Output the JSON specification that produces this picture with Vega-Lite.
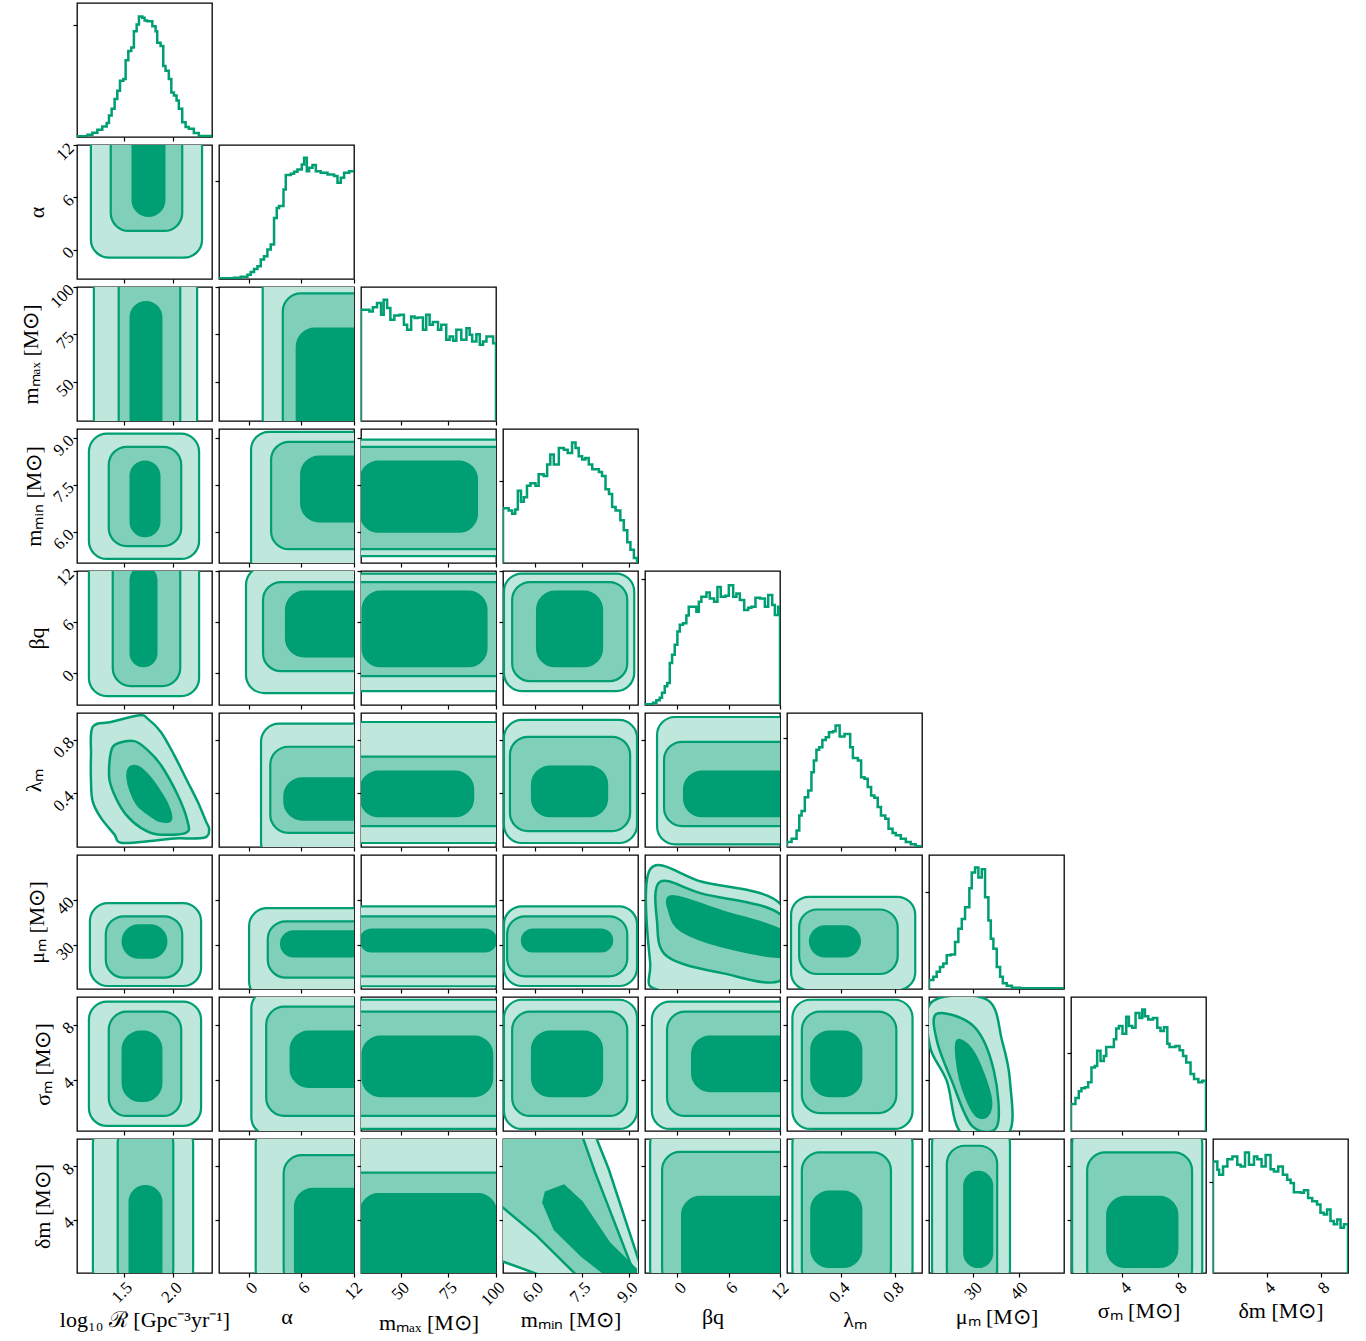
{
"$schema":"https://vega.github.io/schema/vega-lite/v6.json",
"padding":{"left":18,"top":2,"right":5,"bottom":5},
"background":"white",
"datasets":{
"h":[
{"p":0,"x":1.03,"h":0},{"p":0,"x":1.03,"h":0.5},{"p":0,"x":1.135,"h":1.7},{"p":0,"x":1.185,"h":3.2},{"p":0,"x":1.235,"h":5.4},{"p":0,"x":1.285,"h":7.9},{"p":0,"x":1.329,"h":10.4},{"p":0,"x":1.352,"h":16},{"p":0,"x":1.379,"h":21},{"p":0,"x":1.409,"h":28.4},{"p":0,"x":1.436,"h":34.6},{"p":0,"x":1.463,"h":42},{"p":0,"x":1.497,"h":43.2},{"p":0,"x":1.52,"h":57.3},{"p":0,"x":1.547,"h":64.2},{"p":0,"x":1.577,"h":66.7},{"p":0,"x":1.603,"h":79},{"p":0,"x":1.631,"h":84},{"p":0,"x":1.654,"h":90},{"p":0,"x":1.688,"h":88.9},{"p":0,"x":1.711,"h":86.9},{"p":0,"x":1.738,"h":86.4},{"p":0,"x":1.789,"h":82.7},{"p":0,"x":1.822,"h":79},{"p":0,"x":1.838,"h":70.4},{"p":0,"x":1.872,"h":67.9},{"p":0,"x":1.899,"h":53},{"p":0,"x":1.922,"h":49.4},{"p":0,"x":1.955,"h":43.2},{"p":0,"x":1.98,"h":33.3},{"p":0,"x":2.006,"h":30.9},{"p":0,"x":2.033,"h":27.2},{"p":0,"x":2.056,"h":21},{"p":0,"x":2.09,"h":11.1},{"p":0,"x":2.124,"h":7.4},{"p":0,"x":2.157,"h":6.2},{"p":0,"x":2.207,"h":3},{"p":0,"x":2.257,"h":0.7},{"p":0,"x":2.39,"h":0.7},
{"p":1,"x":-3.4,"h":0.5},{"p":1,"x":-1.68,"h":1},{"p":1,"x":-0.91,"h":1.7},{"p":1,"x":-0.15,"h":3.2},{"p":1,"x":0.23,"h":5.2},{"p":1,"x":0.61,"h":7.5},{"p":1,"x":1.0,"h":9.5},{"p":1,"x":1.38,"h":14.5},{"p":1,"x":1.75,"h":17},{"p":1,"x":2.14,"h":22},{"p":1,"x":2.52,"h":25.7},{"p":1,"x":2.9,"h":45.6},{"p":1,"x":3.21,"h":53},{"p":1,"x":3.47,"h":54.4},{"p":1,"x":3.98,"h":66.8},{"p":1,"x":4.24,"h":77.6},{"p":1,"x":4.81,"h":78.6},{"p":1,"x":5.19,"h":80},{"p":1,"x":5.58,"h":81.8},{"p":1,"x":6.07,"h":85.5},{"p":1,"x":6.34,"h":90.5},{"p":1,"x":6.65,"h":80.5},{"p":1,"x":6.91,"h":83},{"p":1,"x":7.3,"h":85},{"p":1,"x":7.68,"h":80.5},{"p":1,"x":8.25,"h":79.3},{"p":1,"x":9.02,"h":78},{"p":1,"x":9.77,"h":76.8},{"p":1,"x":10.16,"h":71.8},{"p":1,"x":10.54,"h":75.6},{"p":1,"x":10.92,"h":79.3},{"p":1,"x":11.49,"h":80.5},{"p":1,"x":12.05,"h":80.5},
{"p":2,"x":29.2,"h":0},{"p":2,"x":29.2,"h":83},{"p":2,"x":33.6,"h":81.8},{"p":2,"x":35.4,"h":84.8},{"p":2,"x":37.6,"h":88},{"p":2,"x":39.7,"h":79.3},{"p":2,"x":41.1,"h":90.5},{"p":2,"x":42.9,"h":84.3},{"p":2,"x":44.6,"h":75.6},{"p":2,"x":46.7,"h":78.8},{"p":2,"x":49.4,"h":79.3},{"p":2,"x":51.7,"h":71.8},{"p":2,"x":53.4,"h":68.1},{"p":2,"x":55.5,"h":78},{"p":2,"x":57.3,"h":76.8},{"p":2,"x":59,"h":77.3},{"p":2,"x":61.7,"h":68.1},{"p":2,"x":63.4,"h":79.3},{"p":2,"x":65.2,"h":71.8},{"p":2,"x":66.9,"h":73.8},{"p":2,"x":69.6,"h":68.1},{"p":2,"x":71.3,"h":71.8},{"p":2,"x":73.9,"h":60.6},{"p":2,"x":75.7,"h":63.1},{"p":2,"x":77.5,"h":59.9},{"p":2,"x":79.2,"h":68.1},{"p":2,"x":81.8,"h":60.6},{"p":2,"x":84.5,"h":69.3},{"p":2,"x":86.2,"h":64.3},{"p":2,"x":87.5,"h":59.4},{"p":2,"x":89.7,"h":64.8},{"p":2,"x":91.5,"h":56.9},{"p":2,"x":93.2,"h":59.4},{"p":2,"x":95,"h":63.1},{"p":2,"x":98.5,"h":58.1},{"p":2,"x":100,"h":58.1},{"p":2,"x":100,"h":0},
{"p":3,"x":5,"h":0},{"p":3,"x":5,"h":40.9},{"p":3,"x":5.18,"h":39.2},{"p":3,"x":5.29,"h":36.8},{"p":3,"x":5.39,"h":40},{"p":3,"x":5.47,"h":53.9},{"p":3,"x":5.57,"h":45.8},{"p":3,"x":5.66,"h":49},{"p":3,"x":5.76,"h":57.6},{"p":3,"x":5.87,"h":59.6},{"p":3,"x":6.03,"h":57.6},{"p":3,"x":6.13,"h":66.2},{"p":3,"x":6.29,"h":65},{"p":3,"x":6.4,"h":73.5},{"p":3,"x":6.5,"h":80.9},{"p":3,"x":6.61,"h":73.5},{"p":3,"x":6.77,"h":85.8},{"p":3,"x":6.93,"h":84.6},{"p":3,"x":7.05,"h":82.1},{"p":3,"x":7.19,"h":90},{"p":3,"x":7.3,"h":85.8},{"p":3,"x":7.4,"h":79.7},{"p":3,"x":7.51,"h":77.2},{"p":3,"x":7.61,"h":78.4},{"p":3,"x":7.72,"h":73.5},{"p":3,"x":7.83,"h":69.9},{"p":3,"x":8.04,"h":67.9},{"p":3,"x":8.14,"h":65},{"p":3,"x":8.25,"h":55.1},{"p":3,"x":8.36,"h":51.5},{"p":3,"x":8.46,"h":41.7},{"p":3,"x":8.57,"h":39.2},{"p":3,"x":8.72,"h":31.9},{"p":3,"x":8.83,"h":24.5},{"p":3,"x":8.94,"h":15.4},{"p":3,"x":9.04,"h":9.8},{"p":3,"x":9.15,"h":3.7},{"p":3,"x":9.25,"h":0.7},{"p":3,"x":9.28,"h":0.7},{"p":3,"x":9.28,"h":0},
{"p":4,"x":-3.8,"h":0.5},{"p":4,"x":-2.86,"h":1.7},{"p":4,"x":-2.47,"h":3.5},{"p":4,"x":-2.08,"h":5.4},{"p":4,"x":-1.81,"h":9.1},{"p":4,"x":-1.49,"h":14},{"p":4,"x":-1.19,"h":16.5},{"p":4,"x":-0.9,"h":31.4},{"p":4,"x":-0.63,"h":37.5},{"p":4,"x":-0.32,"h":44.9},{"p":4,"x":-0.01,"h":54.8},{"p":4,"x":0.27,"h":59.8},{"p":4,"x":0.65,"h":61},{"p":4,"x":1.04,"h":66.7},{"p":4,"x":1.32,"h":73.3},{"p":4,"x":2.21,"h":69.6},{"p":4,"x":2.5,"h":77},{"p":4,"x":2.8,"h":80.7},{"p":4,"x":3.39,"h":84},{"p":4,"x":3.78,"h":79.5},{"p":4,"x":4.29,"h":77},{"p":4,"x":4.68,"h":88.1},{"p":4,"x":5.07,"h":80.7},{"p":4,"x":5.61,"h":81.5},{"p":4,"x":6.01,"h":89.4},{"p":4,"x":6.52,"h":80.7},{"p":4,"x":6.9,"h":83.2},{"p":4,"x":7.3,"h":78.3},{"p":4,"x":7.81,"h":70.9},{"p":4,"x":8.28,"h":72.6},{"p":4,"x":8.66,"h":73.3},{"p":4,"x":9.13,"h":80},{"p":4,"x":9.65,"h":79.5},{"p":4,"x":10.23,"h":73.3},{"p":4,"x":10.62,"h":82},{"p":4,"x":11.09,"h":74.6},{"p":4,"x":11.4,"h":67.2},{"p":4,"x":11.79,"h":73.3},{"p":4,"x":12,"h":73.3},{"p":4,"x":12,"h":0},
{"p":5,"x":0,"h":0},{"p":5,"x":0,"h":3.7},{"p":5,"x":0.034,"h":6.2},{"p":5,"x":0.071,"h":12.4},{"p":5,"x":0.091,"h":23.6},{"p":5,"x":0.108,"h":26.8},{"p":5,"x":0.132,"h":37.2},{"p":5,"x":0.157,"h":42.2},{"p":5,"x":0.181,"h":55.8},{"p":5,"x":0.199,"h":64.5},{"p":5,"x":0.218,"h":72.5},{"p":5,"x":0.238,"h":74.4},{"p":5,"x":0.262,"h":79.9},{"p":5,"x":0.287,"h":81.9},{"p":5,"x":0.311,"h":85.6},{"p":5,"x":0.341,"h":86.4},{"p":5,"x":0.36,"h":90.6},{"p":5,"x":0.39,"h":82.4},{"p":5,"x":0.426,"h":84.4},{"p":5,"x":0.468,"h":74.4},{"p":5,"x":0.488,"h":66.5},{"p":5,"x":0.525,"h":64.5},{"p":5,"x":0.549,"h":52.1},{"p":5,"x":0.574,"h":50.9},{"p":5,"x":0.598,"h":44.7},{"p":5,"x":0.623,"h":38.5},{"p":5,"x":0.647,"h":36.7},{"p":5,"x":0.672,"h":29.8},{"p":5,"x":0.696,"h":23.6},{"p":5,"x":0.728,"h":21.1},{"p":5,"x":0.752,"h":13.6},{"p":5,"x":0.782,"h":10.4},{"p":5,"x":0.806,"h":8.7},{"p":5,"x":0.843,"h":6.2},{"p":5,"x":0.88,"h":3.7},{"p":5,"x":0.917,"h":2},{"p":5,"x":0.953,"h":0.5},{"p":5,"x":1,"h":0.5},
{"p":6,"x":20.3,"h":0},{"p":6,"x":20.3,"h":6.7},{"p":6,"x":21.24,"h":9.1},{"p":6,"x":21.98,"h":12.8},{"p":6,"x":22.7,"h":16.5},{"p":6,"x":23.43,"h":19},{"p":6,"x":24.17,"h":25.2},{"p":6,"x":25.05,"h":25.7},{"p":6,"x":25.99,"h":35.1},{"p":6,"x":26.71,"h":44.9},{"p":6,"x":27.46,"h":52.3},{"p":6,"x":28.18,"h":61},{"p":6,"x":29.12,"h":75.1},{"p":6,"x":29.64,"h":86.9},{"p":6,"x":30.37,"h":90.6},{"p":6,"x":31.09,"h":83.2},{"p":6,"x":31.83,"h":89.4},{"p":6,"x":32.55,"h":68.4},{"p":6,"x":33.28,"h":51.1},{"p":6,"x":33.8,"h":37.5},{"p":6,"x":34.37,"h":30.1},{"p":6,"x":35.11,"h":16.5},{"p":6,"x":35.84,"h":9.1},{"p":6,"x":36.43,"h":4.2},{"p":6,"x":37.3,"h":2.5},{"p":6,"x":38.4,"h":1},{"p":6,"x":40.2,"h":0.5},{"p":6,"x":49.8,"h":0.5},
{"p":7,"x":0.3,"h":0},{"p":7,"x":0.3,"h":20.2},{"p":7,"x":0.62,"h":24.7},{"p":7,"x":0.86,"h":29.6},{"p":7,"x":1.05,"h":31.9},{"p":7,"x":1.3,"h":32.6},{"p":7,"x":1.53,"h":36.3},{"p":7,"x":1.77,"h":47.4},{"p":7,"x":2.01,"h":48.6},{"p":7,"x":2.18,"h":59.8},{"p":7,"x":2.42,"h":52.3},{"p":7,"x":2.66,"h":56},{"p":7,"x":2.83,"h":62.7},{"p":7,"x":3.38,"h":68.4},{"p":7,"x":3.55,"h":76.5},{"p":7,"x":3.74,"h":78.3},{"p":7,"x":4,"h":72.6},{"p":7,"x":4.27,"h":85.2},{"p":7,"x":4.46,"h":78.3},{"p":7,"x":4.7,"h":77},{"p":7,"x":4.94,"h":88.1},{"p":7,"x":5.22,"h":84.4},{"p":7,"x":5.42,"h":90.6},{"p":7,"x":5.61,"h":85.7},{"p":7,"x":5.85,"h":83.2},{"p":7,"x":6.19,"h":84.4},{"p":7,"x":6.5,"h":77},{"p":7,"x":6.73,"h":74.6},{"p":7,"x":6.98,"h":77.5},{"p":7,"x":7.22,"h":65.2},{"p":7,"x":7.38,"h":62.7},{"p":7,"x":7.81,"h":63.5},{"p":7,"x":8.1,"h":60.2},{"p":7,"x":8.35,"h":56},{"p":7,"x":8.58,"h":51.1},{"p":7,"x":8.89,"h":42.5},{"p":7,"x":9.14,"h":38.8},{"p":7,"x":9.45,"h":36.3},{"p":7,"x":9.73,"h":37.5},{"p":7,"x":10,"h":37.5},{"p":7,"x":10,"h":0},
{"p":8,"x":0.05,"h":0},{"p":8,"x":0.05,"h":83.2},{"p":8,"x":0.37,"h":77},{"p":8,"x":0.5,"h":73.3},{"p":8,"x":0.79,"h":79.5},{"p":8,"x":1.11,"h":84.9},{"p":8,"x":1.48,"h":86.9},{"p":8,"x":1.84,"h":80.7},{"p":8,"x":2.09,"h":79.5},{"p":8,"x":2.41,"h":89.9},{"p":8,"x":2.7,"h":80.7},{"p":8,"x":3.07,"h":86.9},{"p":8,"x":3.32,"h":84.9},{"p":8,"x":3.63,"h":79.5},{"p":8,"x":3.93,"h":88.1},{"p":8,"x":4.29,"h":77.5},{"p":8,"x":4.54,"h":75.8},{"p":8,"x":4.86,"h":79.5},{"p":8,"x":5.2,"h":73.3},{"p":8,"x":5.52,"h":69.6},{"p":8,"x":5.77,"h":67.2},{"p":8,"x":6.01,"h":60.2},{"p":8,"x":6.5,"h":59.8},{"p":8,"x":6.75,"h":61.7},{"p":8,"x":7.06,"h":56},{"p":8,"x":7.36,"h":53.6},{"p":8,"x":7.72,"h":51.1},{"p":8,"x":7.97,"h":44.9},{"p":8,"x":8.22,"h":43.7},{"p":8,"x":8.46,"h":47.4},{"p":8,"x":8.71,"h":38.8},{"p":8,"x":8.95,"h":36.3},{"p":8,"x":9.2,"h":40},{"p":8,"x":9.45,"h":33.8},{"p":8,"x":9.7,"h":36.3},{"p":8,"x":10,"h":36.3},{"p":8,"x":10,"h":0}
],
"b":[
{"r":1,"c":0,"l":1,"x1":1.17,"x2":2.29,"y1":-0.94,"y2":14},{"r":1,"c":0,"l":2,"x1":1.37,"x2":2.09,"y1":2.14,"y2":14},{"r":1,"c":0,"l":3,"x1":1.59,"x2":1.91,"y1":3.87,"y2":14},
{"r":2,"c":0,"l":1,"x1":1.2,"x2":2.24,"y1":20,"y2":110},{"r":2,"c":0,"l":2,"x1":1.45,"x2":2.07,"y1":20,"y2":110},{"r":2,"c":0,"l":3,"x1":1.57,"x2":1.88,"y1":20,"y2":92},
{"r":2,"c":1,"l":1,"x1":1.6,"x2":14,"y1":20,"y2":110},{"r":2,"c":1,"l":2,"x1":3.9,"x2":14,"y1":20,"y2":96.6},{"r":2,"c":1,"l":3,"x1":5.5,"x2":14,"y1":20,"y2":78},
{"r":3,"c":0,"l":1,"x1":1.15,"x2":2.26,"y1":5.13,"y2":9.13},{"r":3,"c":0,"l":2,"x1":1.35,"x2":2.08,"y1":5.54,"y2":8.71},{"r":3,"c":0,"l":3,"x1":1.57,"x2":1.86,"y1":5.86,"y2":8.24},
{"r":3,"c":1,"l":1,"x1":0.27,"x2":14,"y1":4.5,"y2":9.19},{"r":3,"c":1,"l":2,"x1":2.56,"x2":14,"y1":5.44,"y2":8.87},{"r":3,"c":1,"l":3,"x1":6,"x2":14,"y1":6.33,"y2":8.4},
{"r":3,"c":2,"l":1,"x1":20,"x2":110,"y1":5.22,"y2":8.94},{"r":3,"c":2,"l":2,"x1":20,"x2":110,"y1":5.44,"y2":8.71},{"r":3,"c":2,"l":3,"x1":29,"x2":90,"y1":6,"y2":8.24},
{"r":4,"c":0,"l":1,"x1":1.15,"x2":2.26,"y1":-2.75,"y2":14},{"r":4,"c":0,"l":2,"x1":1.39,"x2":2.07,"y1":-1.57,"y2":14},{"r":4,"c":0,"l":3,"x1":1.57,"x2":1.83,"y1":0.77,"y2":12.5},
{"r":4,"c":1,"l":1,"x1":-0.31,"x2":14,"y1":-2.39,"y2":12.5},{"r":4,"c":1,"l":2,"x1":1.64,"x2":14,"y1":0.19,"y2":10.7},{"r":4,"c":1,"l":3,"x1":4.27,"x2":14,"y1":1.94,"y2":9.56},
{"r":4,"c":2,"l":1,"x1":20,"x2":110,"y1":-2.16,"y2":11.7},{"r":4,"c":2,"l":2,"x1":20,"x2":110,"y1":-0.4,"y2":10.7},{"r":4,"c":2,"l":3,"x1":30,"x2":95,"y1":0.77,"y2":9.56},
{"r":4,"c":3,"l":1,"x1":5.03,"x2":9.16,"y1":-2.16,"y2":11.7},{"r":4,"c":3,"l":2,"x1":5.29,"x2":8.94,"y1":-0.99,"y2":10.7},{"r":4,"c":3,"l":3,"x1":6.08,"x2":8.14,"y1":0.77,"y2":9.56},
{"r":5,"c":1,"l":1,"x1":1.41,"x2":14,"y1":-0.1,"y2":0.92},{"r":5,"c":1,"l":2,"x1":2.47,"x2":14,"y1":0.106,"y2":0.748},{"r":5,"c":1,"l":3,"x1":4.08,"x2":14,"y1":0.205,"y2":0.513},
{"r":5,"c":2,"l":1,"x1":20,"x2":110,"y1":0.03,"y2":0.933},{"r":5,"c":2,"l":2,"x1":20,"x2":110,"y1":0.156,"y2":0.674},{"r":5,"c":2,"l":3,"x1":29,"x2":88,"y1":0.23,"y2":0.563},
{"r":5,"c":3,"l":1,"x1":5.03,"x2":9.25,"y1":0.03,"y2":0.948},{"r":5,"c":3,"l":2,"x1":5.22,"x2":9.03,"y1":0.119,"y2":0.822},{"r":5,"c":3,"l":3,"x1":5.92,"x2":8.3,"y1":0.23,"y2":0.6},
{"r":5,"c":4,"l":1,"x1":-2.39,"x2":14,"y1":0.02,"y2":0.97},{"r":5,"c":4,"l":2,"x1":-1.57,"x2":14,"y1":0.156,"y2":0.785},{"r":5,"c":4,"l":3,"x1":0.77,"x2":14,"y1":0.23,"y2":0.563},
{"r":6,"c":0,"l":1,"x1":1.16,"x2":2.28,"y1":20.96,"y2":39.2},{"r":6,"c":0,"l":2,"x1":1.32,"x2":2.09,"y1":22.8,"y2":36.3},{"r":6,"c":0,"l":3,"x1":1.49,"x2":1.93,"y1":27.2,"y2":34.3},
{"r":6,"c":1,"l":1,"x1":0.04,"x2":14,"y1":18,"y2":38.1},{"r":6,"c":1,"l":2,"x1":2.18,"x2":14,"y1":22.8,"y2":35.2},{"r":6,"c":1,"l":3,"x1":3.7,"x2":14,"y1":27.5,"y2":33},
{"r":6,"c":2,"l":1,"x1":20,"x2":110,"y1":20.9,"y2":38.5},{"r":6,"c":2,"l":2,"x1":20,"x2":110,"y1":23.1,"y2":36.3},{"r":6,"c":2,"l":3,"x1":29,"x2":100,"y1":28.6,"y2":33.4},
{"r":6,"c":3,"l":1,"x1":5.03,"x2":9.25,"y1":20.96,"y2":38.5},{"r":6,"c":3,"l":2,"x1":5.13,"x2":8.94,"y1":23.1,"y2":36.3},{"r":6,"c":3,"l":3,"x1":5.6,"x2":8.46,"y1":28.6,"y2":33.4},
{"r":6,"c":5,"l":1,"x1":0.03,"x2":0.95,"y1":20,"y2":40.6},{"r":6,"c":5,"l":2,"x1":0.09,"x2":0.82,"y1":23.6,"y2":37.8},{"r":6,"c":5,"l":3,"x1":0.17,"x2":0.54,"y1":27.5,"y2":34.1},
{"r":7,"c":0,"l":1,"x1":1.15,"x2":2.28,"y1":0.67,"y2":9.66},{"r":7,"c":0,"l":2,"x1":1.35,"x2":2.08,"y1":1.39,"y2":8.94},{"r":7,"c":0,"l":3,"x1":1.49,"x2":1.88,"y1":2.47,"y2":7.5},
{"r":7,"c":1,"l":1,"x1":0.3,"x2":14,"y1":0,"y2":10.5},{"r":7,"c":1,"l":2,"x1":2,"x2":14,"y1":1.4,"y2":9.3},{"r":7,"c":1,"l":3,"x1":4.8,"x2":14,"y1":3.5,"y2":7.5},
{"r":7,"c":2,"l":1,"x1":20,"x2":110,"y1":0.45,"y2":9.8},{"r":7,"c":2,"l":2,"x1":20,"x2":110,"y1":1.39,"y2":8.94},{"r":7,"c":2,"l":3,"x1":30,"x2":98,"y1":2.83,"y2":7.14},
{"r":7,"c":3,"l":1,"x1":5.03,"x2":9.25,"y1":0.45,"y2":9.8},{"r":7,"c":3,"l":2,"x1":5.29,"x2":8.94,"y1":1.39,"y2":8.94},{"r":7,"c":3,"l":3,"x1":5.92,"x2":8.14,"y1":2.83,"y2":7.5},
{"r":7,"c":4,"l":1,"x1":-3,"x2":14,"y1":0.45,"y2":9.66},{"r":7,"c":4,"l":2,"x1":-1.22,"x2":14,"y1":1.39,"y2":8.94},{"r":7,"c":4,"l":3,"x1":1.71,"x2":14,"y1":3.19,"y2":7.14},
{"r":7,"c":5,"l":1,"x1":0.04,"x2":0.93,"y1":0.45,"y2":9.8},{"r":7,"c":5,"l":2,"x1":0.11,"x2":0.81,"y1":1.6,"y2":8.94},{"r":7,"c":5,"l":3,"x1":0.18,"x2":0.55,"y1":2.83,"y2":7.5},
{"r":8,"c":0,"l":1,"x1":1.19,"x2":2.2,"y1":-1,"y2":11},{"r":8,"c":0,"l":2,"x1":1.44,"x2":2.0,"y1":-1,"y2":11},{"r":8,"c":0,"l":3,"x1":1.56,"x2":1.88,"y1":-1,"y2":6.5},
{"r":8,"c":1,"l":1,"x1":0.8,"x2":14,"y1":-1,"y2":11},{"r":8,"c":1,"l":2,"x1":4,"x2":14,"y1":-1,"y2":8.8},{"r":8,"c":1,"l":3,"x1":5.3,"x2":14,"y1":-1,"y2":6.3},
{"r":8,"c":2,"l":1,"x1":20,"x2":110,"y1":-1,"y2":10.5},{"r":8,"c":2,"l":2,"x1":20,"x2":110,"y1":-1,"y2":7.5},{"r":8,"c":2,"l":3,"x1":29,"x2":100,"y1":-1,"y2":5.9},
{"r":8,"c":4,"l":1,"x1":-3.2,"x2":14,"y1":-1,"y2":11},{"r":8,"c":4,"l":2,"x1":-1.8,"x2":14,"y1":-1,"y2":9.04},{"r":8,"c":4,"l":3,"x1":0.54,"x2":14,"y1":-1,"y2":5.7},
{"r":8,"c":5,"l":1,"x1":0.04,"x2":0.93,"y1":-1,"y2":11},{"r":8,"c":5,"l":2,"x1":0.11,"x2":0.77,"y1":-1,"y2":9},{"r":8,"c":5,"l":3,"x1":0.18,"x2":0.55,"y1":0.5,"y2":6.1},
{"r":8,"c":6,"l":1,"x1":20.96,"x2":38,"y1":-1,"y2":11},{"r":8,"c":6,"l":2,"x1":24.2,"x2":35.2,"y1":-1,"y2":9.5},{"r":8,"c":6,"l":3,"x1":28,"x2":34.1,"y1":0.5,"y2":7.56},
{"r":8,"c":7,"l":1,"x1":0.38,"x2":9.73,"y1":-1,"y2":11},{"r":8,"c":7,"l":2,"x1":1.46,"x2":9,"y1":-1,"y2":9},{"r":8,"c":7,"l":3,"x1":2.9,"x2":7.94,"y1":0.5,"y2":5.7}
],
"q":[
{"r":5,"c":0,"l":1,"o":0,"x1":1.188,"y1":0.896},{"r":5,"c":0,"l":1,"o":1,"x1":1.372,"y1":0.933},{"r":5,"c":0,"l":1,"o":2,"x1":1.657,"y1":0.983},{"r":5,"c":0,"l":1,"o":3,"x1":1.741,"y1":0.958},{"r":5,"c":0,"l":1,"o":4,"x1":1.875,"y1":0.859},{"r":5,"c":0,"l":1,"o":5,"x1":2.009,"y1":0.686},{"r":5,"c":0,"l":1,"o":6,"x1":2.143,"y1":0.489},{"r":5,"c":0,"l":1,"o":7,"x1":2.244,"y1":0.341},{"r":5,"c":0,"l":1,"o":8,"x1":2.328,"y1":0.193},{"r":5,"c":0,"l":1,"o":9,"x1":2.361,"y1":0.131},{"r":5,"c":0,"l":1,"o":10,"x1":2.311,"y1":0.069},{"r":5,"c":0,"l":1,"o":11,"x1":2.009,"y1":0.064},{"r":5,"c":0,"l":1,"o":12,"x1":1.774,"y1":0.044},{"r":5,"c":0,"l":1,"o":13,"x1":1.473,"y1":0.032},{"r":5,"c":0,"l":1,"o":14,"x1":1.406,"y1":0.094},{"r":5,"c":0,"l":1,"o":15,"x1":1.271,"y1":0.217},{"r":5,"c":0,"l":1,"o":16,"x1":1.188,"y1":0.341},{"r":5,"c":0,"l":1,"o":17,"x1":1.171,"y1":0.489},{"r":5,"c":0,"l":1,"o":18,"x1":1.171,"y1":0.686},
{"r":5,"c":0,"l":2,"o":0,"x1":1.372,"y1":0.711},{"r":5,"c":0,"l":2,"o":1,"x1":1.439,"y1":0.773},{"r":5,"c":0,"l":2,"o":2,"x1":1.607,"y1":0.79},{"r":5,"c":0,"l":2,"o":3,"x1":1.741,"y1":0.723},{"r":5,"c":0,"l":2,"o":4,"x1":1.875,"y1":0.612},{"r":5,"c":0,"l":2,"o":5,"x1":2.043,"y1":0.39},{"r":5,"c":0,"l":2,"o":6,"x1":2.143,"y1":0.193},{"r":5,"c":0,"l":2,"o":7,"x1":2.127,"y1":0.106},{"r":5,"c":0,"l":2,"o":8,"x1":1.842,"y1":0.094},{"r":5,"c":0,"l":2,"o":9,"x1":1.674,"y1":0.143},{"r":5,"c":0,"l":2,"o":10,"x1":1.523,"y1":0.242},{"r":5,"c":0,"l":2,"o":11,"x1":1.422,"y1":0.365},{"r":5,"c":0,"l":2,"o":12,"x1":1.355,"y1":0.514},
{"r":5,"c":0,"l":3,"o":0,"x1":1.556,"y1":0.588},{"r":5,"c":0,"l":3,"o":1,"x1":1.64,"y1":0.6},{"r":5,"c":0,"l":3,"o":2,"x1":1.741,"y1":0.538},{"r":5,"c":0,"l":3,"o":3,"x1":1.842,"y1":0.44},{"r":5,"c":0,"l":3,"o":4,"x1":1.942,"y1":0.316},{"r":5,"c":0,"l":3,"o":5,"x1":1.976,"y1":0.205},{"r":5,"c":0,"l":3,"o":6,"x1":1.875,"y1":0.193},{"r":5,"c":0,"l":3,"o":7,"x1":1.758,"y1":0.242},{"r":5,"c":0,"l":3,"o":8,"x1":1.64,"y1":0.316},{"r":5,"c":0,"l":3,"o":9,"x1":1.573,"y1":0.415},{"r":5,"c":0,"l":3,"o":10,"x1":1.54,"y1":0.514},
{"r":6,"c":4,"l":1,"o":0,"x1":-3.21,"y1":46.6},{"r":6,"c":4,"l":1,"o":1,"x1":2.88,"y1":43.9},{"r":6,"c":4,"l":1,"o":2,"x1":12.3,"y1":38.5},{"r":6,"c":4,"l":1,"o":3,"x1":12.3,"y1":19.9},{"r":6,"c":4,"l":1,"o":4,"x1":-1.81,"y1":19.9},{"r":6,"c":4,"l":1,"o":5,"x1":-3.21,"y1":26.4},
{"r":6,"c":4,"l":2,"o":0,"x1":-2.04,"y1":43.9},{"r":6,"c":4,"l":2,"o":1,"x1":2.88,"y1":41.3},{"r":6,"c":4,"l":2,"o":2,"x1":12.3,"y1":36.3},{"r":6,"c":4,"l":2,"o":3,"x1":12.3,"y1":22.5},{"r":6,"c":4,"l":2,"o":4,"x1":5.23,"y1":23.8},{"r":6,"c":4,"l":2,"o":5,"x1":-1.22,"y1":27.5},{"r":6,"c":4,"l":2,"o":6,"x1":-2.39,"y1":35.2},
{"r":6,"c":4,"l":3,"o":0,"x1":-0.63,"y1":40.7},{"r":6,"c":4,"l":3,"o":1,"x1":5.23,"y1":37.4},{"r":6,"c":4,"l":3,"o":2,"x1":12.3,"y1":33.0},{"r":6,"c":4,"l":3,"o":3,"x1":12.3,"y1":27.5},{"r":6,"c":4,"l":3,"o":4,"x1":5.23,"y1":29.7},{"r":6,"c":4,"l":3,"o":5,"x1":0.54,"y1":33.0},{"r":6,"c":4,"l":3,"o":6,"x1":-0.87,"y1":36.9},
{"r":7,"c":6,"l":1,"o":0,"x1":20.96,"y1":9.66},{"r":7,"c":6,"l":1,"o":1,"x1":33.0,"y1":9.8},{"r":7,"c":6,"l":1,"o":2,"x1":36.3,"y1":6.79},{"r":7,"c":6,"l":1,"o":3,"x1":38.0,"y1":3.91},{"r":7,"c":6,"l":1,"o":4,"x1":37.6,"y1":0.1},{"r":7,"c":6,"l":1,"o":5,"x1":27.5,"y1":0.1},{"r":7,"c":6,"l":1,"o":6,"x1":24.2,"y1":3.91},{"r":7,"c":6,"l":1,"o":7,"x1":20.5,"y1":6.43},
{"r":7,"c":6,"l":2,"o":0,"x1":22.05,"y1":8.8},{"r":7,"c":6,"l":2,"o":1,"x1":30.15,"y1":7.86},{"r":7,"c":6,"l":2,"o":2,"x1":34.5,"y1":4.63},{"r":7,"c":6,"l":2,"o":3,"x1":35.2,"y1":0.67},{"r":7,"c":6,"l":2,"o":4,"x1":29.7,"y1":0.67},{"r":7,"c":6,"l":2,"o":5,"x1":25.3,"y1":3.91},{"r":7,"c":6,"l":2,"o":6,"x1":22.05,"y1":6.79},
{"r":7,"c":6,"l":3,"o":0,"x1":26.4,"y1":6.79},{"r":7,"c":6,"l":3,"o":1,"x1":30.15,"y1":5.92},{"r":7,"c":6,"l":3,"o":2,"x1":33.7,"y1":2.83},{"r":7,"c":6,"l":3,"o":3,"x1":33.0,"y1":1.39},{"r":7,"c":6,"l":3,"o":4,"x1":30.15,"y1":1.6},{"r":7,"c":6,"l":3,"o":5,"x1":27.1,"y1":4.05},
{"r":8,"c":3,"l":1,"o":0,"x1":4.8,"y1":10.3},{"r":8,"c":3,"l":1,"o":1,"x1":7.92,"y1":10.3},{"r":8,"c":3,"l":1,"o":2,"x1":8.35,"y1":7.77},{"r":8,"c":3,"l":1,"o":3,"x1":9.4,"y1":0.3},{"r":8,"c":3,"l":1,"o":4,"x1":9.4,"y1":-0.5},{"r":8,"c":3,"l":1,"o":5,"x1":6.64,"y1":-0.5},{"r":8,"c":3,"l":1,"o":6,"x1":4.8,"y1":1.07},
{"r":8,"c":3,"l":2,"o":0,"x1":4.8,"y1":10.3},{"r":8,"c":3,"l":2,"o":1,"x1":7.5,"y1":10.3},{"r":8,"c":3,"l":2,"o":2,"x1":7.92,"y1":7.52},{"r":8,"c":3,"l":2,"o":3,"x1":9.07,"y1":0.58},{"r":8,"c":3,"l":2,"o":4,"x1":9.2,"y1":-0.5},{"r":8,"c":3,"l":2,"o":5,"x1":7.5,"y1":-0.5},{"r":8,"c":3,"l":2,"o":6,"x1":6.07,"y1":2.81},{"r":8,"c":3,"l":2,"o":7,"x1":4.8,"y1":5.29},
{"r":8,"c":3,"l":3,"o":0,"x1":6.36,"y1":6.03},{"r":8,"c":3,"l":3,"o":1,"x1":6.93,"y1":6.53},{"r":8,"c":3,"l":3,"o":2,"x1":7.5,"y1":5.29},{"r":8,"c":3,"l":3,"o":3,"x1":8.35,"y1":2.31},{"r":8,"c":3,"l":3,"o":4,"x1":9.21,"y1":0.33},{"r":8,"c":3,"l":3,"o":5,"x1":9.21,"y1":-0.5},{"r":8,"c":3,"l":3,"o":6,"x1":8.5,"y1":-0.5},{"r":8,"c":3,"l":3,"o":7,"x1":7.5,"y1":1.32},{"r":8,"c":3,"l":3,"o":8,"x1":6.64,"y1":3.3},{"r":8,"c":3,"l":3,"o":9,"x1":6.28,"y1":5.29}
]
},
"columns":9,
"bounds":"flush",
"spacing":{"row":8,"column":7},
"concat":[
{"width":135,"height":134,"data":{"name":"h"},"transform":[{"filter":"datum.p==0"}],"mark":{"type":"line","interpolate":"step-after","clip":true},"encoding":{"x":{"field":"x","type":"quantitative","scale":{"domain":[1.03,2.39]},"axis":{"values":[1.5,2.0]}},"y":{"field":"h","type":"quantitative","scale":{"domain":[0,100]},"axis":{"values":[83.5]}}}},
{"width":135,"height":134,"view":{"stroke":null},"data":{"values":[]},"mark":"point"},
{"width":135,"height":134,"view":{"stroke":null},"data":{"values":[]},"mark":"point"},
{"width":135,"height":134,"view":{"stroke":null},"data":{"values":[]},"mark":"point"},
{"width":135,"height":134,"view":{"stroke":null},"data":{"values":[]},"mark":"point"},
{"width":135,"height":134,"view":{"stroke":null},"data":{"values":[]},"mark":"point"},
{"width":135,"height":134,"view":{"stroke":null},"data":{"values":[]},"mark":"point"},
{"width":135,"height":134,"view":{"stroke":null},"data":{"values":[]},"mark":"point"},
{"width":135,"height":134,"view":{"stroke":null},"data":{"values":[]},"mark":"point"},

{"width":135,"height":134,"data":{"name":"b"},"transform":[{"filter":"datum.r==1&&datum.c==0"}],"mark":{"type":"rect","clip":true},"encoding":{"x":{"field":"x1","type":"quantitative","scale":{"domain":[1.03,2.39]},"axis":{"values":[1.5,2.0]}},"x2":{"field":"x2"},"y":{"field":"y1","type":"quantitative","scale":{"domain":[-3.4,12.05]},"axis":{"values":[0,6,12],"labels":true,"titleOpacity":1,"title":"α"}},"y2":{"field":"y2"},"fill":{"field":"l","type":"ordinal","legend":null}}},
{"width":135,"height":134,"data":{"name":"h"},"transform":[{"filter":"datum.p==1"}],"mark":{"type":"line","interpolate":"step-after","clip":true},"encoding":{"x":{"field":"x","type":"quantitative","scale":{"domain":[-3.4,12.05]},"axis":{"values":[0,6,12]}},"y":{"field":"h","type":"quantitative","scale":{"domain":[0,100]},"axis":{"values":[72.8]}}}},
{"width":135,"height":134,"view":{"stroke":null},"data":{"values":[]},"mark":"point"},
{"width":135,"height":134,"view":{"stroke":null},"data":{"values":[]},"mark":"point"},
{"width":135,"height":134,"view":{"stroke":null},"data":{"values":[]},"mark":"point"},
{"width":135,"height":134,"view":{"stroke":null},"data":{"values":[]},"mark":"point"},
{"width":135,"height":134,"view":{"stroke":null},"data":{"values":[]},"mark":"point"},
{"width":135,"height":134,"view":{"stroke":null},"data":{"values":[]},"mark":"point"},
{"width":135,"height":134,"view":{"stroke":null},"data":{"values":[]},"mark":"point"},

{"width":135,"height":134,"data":{"name":"b"},"transform":[{"filter":"datum.r==2&&datum.c==0"}],"mark":{"type":"rect","clip":true},"encoding":{"x":{"field":"x1","type":"quantitative","scale":{"domain":[1.03,2.39]},"axis":{"values":[1.5,2.0]}},"x2":{"field":"x2"},"y":{"field":"y1","type":"quantitative","scale":{"domain":[29.2,100]},"axis":{"values":[50,75,100],"labels":true,"titleOpacity":1,"title":"mₘₐₓ [M⊙]"}},"y2":{"field":"y2"},"fill":{"field":"l","type":"ordinal","legend":null}}},
{"width":135,"height":134,"data":{"name":"b"},"transform":[{"filter":"datum.r==2&&datum.c==1"}],"mark":{"type":"rect","clip":true},"encoding":{"x":{"field":"x1","type":"quantitative","scale":{"domain":[-3.4,12.05]},"axis":{"values":[0,6,12]}},"x2":{"field":"x2"},"y":{"field":"y1","type":"quantitative","scale":{"domain":[29.2,100]},"axis":{"values":[50,75,100]}},"y2":{"field":"y2"},"fill":{"field":"l","type":"ordinal","legend":null}}},
{"width":135,"height":134,"data":{"name":"h"},"transform":[{"filter":"datum.p==2"}],"mark":{"type":"line","interpolate":"step-after","clip":true},"encoding":{"x":{"field":"x","type":"quantitative","scale":{"domain":[29.2,100]},"axis":{"values":[50,75,100]}},"y":{"field":"h","type":"quantitative","scale":{"domain":[0,100]},"axis":{"values":[]}}}},
{"width":135,"height":134,"view":{"stroke":null},"data":{"values":[]},"mark":"point"},
{"width":135,"height":134,"view":{"stroke":null},"data":{"values":[]},"mark":"point"},
{"width":135,"height":134,"view":{"stroke":null},"data":{"values":[]},"mark":"point"},
{"width":135,"height":134,"view":{"stroke":null},"data":{"values":[]},"mark":"point"},
{"width":135,"height":134,"view":{"stroke":null},"data":{"values":[]},"mark":"point"},
{"width":135,"height":134,"view":{"stroke":null},"data":{"values":[]},"mark":"point"},

{"width":135,"height":134,"data":{"name":"b"},"transform":[{"filter":"datum.r==3&&datum.c==0"}],"mark":{"type":"rect","clip":true},"encoding":{"x":{"field":"x1","type":"quantitative","scale":{"domain":[1.03,2.39]},"axis":{"values":[1.5,2.0]}},"x2":{"field":"x2"},"y":{"field":"y1","type":"quantitative","scale":{"domain":[5,9.28]},"axis":{"values":[6,7.5,9],"labels":true,"titleOpacity":1,"title":"mₘᵢₙ [M⊙]","format":".1f"}},"y2":{"field":"y2"},"fill":{"field":"l","type":"ordinal","legend":null}}},
{"width":135,"height":134,"data":{"name":"b"},"transform":[{"filter":"datum.r==3&&datum.c==1"}],"mark":{"type":"rect","clip":true},"encoding":{"x":{"field":"x1","type":"quantitative","scale":{"domain":[-3.4,12.05]},"axis":{"values":[0,6,12]}},"x2":{"field":"x2"},"y":{"field":"y1","type":"quantitative","scale":{"domain":[5,9.28]},"axis":{"values":[6,7.5,9]}},"y2":{"field":"y2"},"fill":{"field":"l","type":"ordinal","legend":null}}},
{"width":135,"height":134,"data":{"name":"b"},"transform":[{"filter":"datum.r==3&&datum.c==2"}],"mark":{"type":"rect","clip":true},"encoding":{"x":{"field":"x1","type":"quantitative","scale":{"domain":[29.2,100]},"axis":{"values":[50,75,100]}},"x2":{"field":"x2"},"y":{"field":"y1","type":"quantitative","scale":{"domain":[5,9.28]},"axis":{"values":[6,7.5,9]}},"y2":{"field":"y2"},"fill":{"field":"l","type":"ordinal","legend":null}}},
{"width":135,"height":134,"data":{"name":"h"},"transform":[{"filter":"datum.p==3"}],"mark":{"type":"line","interpolate":"step-after","clip":true},"encoding":{"x":{"field":"x","type":"quantitative","scale":{"domain":[5,9.28]},"axis":{"values":[6,7.5,9]}},"y":{"field":"h","type":"quantitative","scale":{"domain":[0,100]},"axis":{"values":[61.3]}}}},
{"width":135,"height":134,"view":{"stroke":null},"data":{"values":[]},"mark":"point"},
{"width":135,"height":134,"view":{"stroke":null},"data":{"values":[]},"mark":"point"},
{"width":135,"height":134,"view":{"stroke":null},"data":{"values":[]},"mark":"point"},
{"width":135,"height":134,"view":{"stroke":null},"data":{"values":[]},"mark":"point"},
{"width":135,"height":134,"view":{"stroke":null},"data":{"values":[]},"mark":"point"},

{"width":135,"height":134,"data":{"name":"b"},"transform":[{"filter":"datum.r==4&&datum.c==0"}],"mark":{"type":"rect","clip":true},"encoding":{"x":{"field":"x1","type":"quantitative","scale":{"domain":[1.03,2.39]},"axis":{"values":[1.5,2.0]}},"x2":{"field":"x2"},"y":{"field":"y1","type":"quantitative","scale":{"domain":[-3.8,12]},"axis":{"values":[0,6,12],"labels":true,"titleOpacity":1,"title":"βq"}},"y2":{"field":"y2"},"fill":{"field":"l","type":"ordinal","legend":null}}},
{"width":135,"height":134,"data":{"name":"b"},"transform":[{"filter":"datum.r==4&&datum.c==1"}],"mark":{"type":"rect","clip":true},"encoding":{"x":{"field":"x1","type":"quantitative","scale":{"domain":[-3.4,12.05]},"axis":{"values":[0,6,12]}},"x2":{"field":"x2"},"y":{"field":"y1","type":"quantitative","scale":{"domain":[-3.8,12]},"axis":{"values":[0,6,12]}},"y2":{"field":"y2"},"fill":{"field":"l","type":"ordinal","legend":null}}},
{"width":135,"height":134,"data":{"name":"b"},"transform":[{"filter":"datum.r==4&&datum.c==2"}],"mark":{"type":"rect","clip":true},"encoding":{"x":{"field":"x1","type":"quantitative","scale":{"domain":[29.2,100]},"axis":{"values":[50,75,100]}},"x2":{"field":"x2"},"y":{"field":"y1","type":"quantitative","scale":{"domain":[-3.8,12]},"axis":{"values":[0,6,12]}},"y2":{"field":"y2"},"fill":{"field":"l","type":"ordinal","legend":null}}},
{"width":135,"height":134,"data":{"name":"b"},"transform":[{"filter":"datum.r==4&&datum.c==3"}],"mark":{"type":"rect","clip":true},"encoding":{"x":{"field":"x1","type":"quantitative","scale":{"domain":[5,9.28]},"axis":{"values":[6,7.5,9]}},"x2":{"field":"x2"},"y":{"field":"y1","type":"quantitative","scale":{"domain":[-3.8,12]},"axis":{"values":[0,6,12]}},"y2":{"field":"y2"},"fill":{"field":"l","type":"ordinal","legend":null}}},
{"width":135,"height":134,"data":{"name":"h"},"transform":[{"filter":"datum.p==4"}],"mark":{"type":"line","interpolate":"step-after","clip":true},"encoding":{"x":{"field":"x","type":"quantitative","scale":{"domain":[-3.8,12]},"axis":{"values":[0,6,12]}},"y":{"field":"h","type":"quantitative","scale":{"domain":[0,100]},"axis":{"values":[94.3]}}}},
{"width":135,"height":134,"view":{"stroke":null},"data":{"values":[]},"mark":"point"},
{"width":135,"height":134,"view":{"stroke":null},"data":{"values":[]},"mark":"point"},
{"width":135,"height":134,"view":{"stroke":null},"data":{"values":[]},"mark":"point"},
{"width":135,"height":134,"view":{"stroke":null},"data":{"values":[]},"mark":"point"},

{"width":135,"height":134,"data":{"name":"q"},"transform":[{"filter":"datum.r==5&&datum.c==0"}],"encoding":{"x":{"field":"x1","type":"quantitative","scale":{"domain":[1.03,2.39]},"axis":{"values":[1.5,2.0]}},"y":{"field":"y1","type":"quantitative","scale":{"domain":[0,1]},"axis":{"values":[0.4,0.8],"labels":true,"titleOpacity":1,"title":"λₘ","format":".1f"}},"order":{"field":"o","type":"quantitative"}},"layer":[
{"transform":[{"filter":"datum.l==1"}],"mark":{"type":"line","interpolate":"cardinal-closed","clip":true,"fill":"#bfe7dc"}},
{"transform":[{"filter":"datum.l==2"}],"mark":{"type":"line","interpolate":"cardinal-closed","clip":true,"fill":"#80cfb9"}},
{"transform":[{"filter":"datum.l==3"}],"mark":{"type":"line","interpolate":"cardinal-closed","clip":true,"fill":"#009e73"}}]},
{"width":135,"height":134,"data":{"name":"b"},"transform":[{"filter":"datum.r==5&&datum.c==1"}],"mark":{"type":"rect","clip":true},"encoding":{"x":{"field":"x1","type":"quantitative","scale":{"domain":[-3.4,12.05]},"axis":{"values":[0,6,12]}},"x2":{"field":"x2"},"y":{"field":"y1","type":"quantitative","scale":{"domain":[0,1]},"axis":{"values":[0.4,0.8]}},"y2":{"field":"y2"},"fill":{"field":"l","type":"ordinal","legend":null}}},
{"width":135,"height":134,"data":{"name":"b"},"transform":[{"filter":"datum.r==5&&datum.c==2"}],"mark":{"type":"rect","clip":true},"encoding":{"x":{"field":"x1","type":"quantitative","scale":{"domain":[29.2,100]},"axis":{"values":[50,75,100]}},"x2":{"field":"x2"},"y":{"field":"y1","type":"quantitative","scale":{"domain":[0,1]},"axis":{"values":[0.4,0.8]}},"y2":{"field":"y2"},"fill":{"field":"l","type":"ordinal","legend":null}}},
{"width":135,"height":134,"data":{"name":"b"},"transform":[{"filter":"datum.r==5&&datum.c==3"}],"mark":{"type":"rect","clip":true},"encoding":{"x":{"field":"x1","type":"quantitative","scale":{"domain":[5,9.28]},"axis":{"values":[6,7.5,9]}},"x2":{"field":"x2"},"y":{"field":"y1","type":"quantitative","scale":{"domain":[0,1]},"axis":{"values":[0.4,0.8]}},"y2":{"field":"y2"},"fill":{"field":"l","type":"ordinal","legend":null}}},
{"width":135,"height":134,"data":{"name":"b"},"transform":[{"filter":"datum.r==5&&datum.c==4"}],"mark":{"type":"rect","clip":true},"encoding":{"x":{"field":"x1","type":"quantitative","scale":{"domain":[-3.8,12]},"axis":{"values":[0,6,12]}},"x2":{"field":"x2"},"y":{"field":"y1","type":"quantitative","scale":{"domain":[0,1]},"axis":{"values":[0.4,0.8]}},"y2":{"field":"y2"},"fill":{"field":"l","type":"ordinal","legend":null}}},
{"width":135,"height":134,"data":{"name":"h"},"transform":[{"filter":"datum.p==5"}],"mark":{"type":"line","interpolate":"step-after","clip":true},"encoding":{"x":{"field":"x","type":"quantitative","scale":{"domain":[0,1]},"axis":{"values":[0.4,0.8]}},"y":{"field":"h","type":"quantitative","scale":{"domain":[0,100]},"axis":{"values":[81.4]}}}},
{"width":135,"height":134,"view":{"stroke":null},"data":{"values":[]},"mark":"point"},
{"width":135,"height":134,"view":{"stroke":null},"data":{"values":[]},"mark":"point"},
{"width":135,"height":134,"view":{"stroke":null},"data":{"values":[]},"mark":"point"},

{"width":135,"height":134,"data":{"name":"b"},"transform":[{"filter":"datum.r==6&&datum.c==0"}],"mark":{"type":"rect","clip":true},"encoding":{"x":{"field":"x1","type":"quantitative","scale":{"domain":[1.03,2.39]},"axis":{"values":[1.5,2.0]}},"x2":{"field":"x2"},"y":{"field":"y1","type":"quantitative","scale":{"domain":[20.3,49.8]},"axis":{"values":[30,40],"labels":true,"titleOpacity":1,"title":"μₘ [M⊙]"}},"y2":{"field":"y2"},"fill":{"field":"l","type":"ordinal","legend":null}}},
{"width":135,"height":134,"data":{"name":"b"},"transform":[{"filter":"datum.r==6&&datum.c==1"}],"mark":{"type":"rect","clip":true},"encoding":{"x":{"field":"x1","type":"quantitative","scale":{"domain":[-3.4,12.05]},"axis":{"values":[0,6,12]}},"x2":{"field":"x2"},"y":{"field":"y1","type":"quantitative","scale":{"domain":[20.3,49.8]},"axis":{"values":[30,40]}},"y2":{"field":"y2"},"fill":{"field":"l","type":"ordinal","legend":null}}},
{"width":135,"height":134,"data":{"name":"b"},"transform":[{"filter":"datum.r==6&&datum.c==2"}],"mark":{"type":"rect","clip":true},"encoding":{"x":{"field":"x1","type":"quantitative","scale":{"domain":[29.2,100]},"axis":{"values":[50,75,100]}},"x2":{"field":"x2"},"y":{"field":"y1","type":"quantitative","scale":{"domain":[20.3,49.8]},"axis":{"values":[30,40]}},"y2":{"field":"y2"},"fill":{"field":"l","type":"ordinal","legend":null}}},
{"width":135,"height":134,"data":{"name":"b"},"transform":[{"filter":"datum.r==6&&datum.c==3"}],"mark":{"type":"rect","clip":true},"encoding":{"x":{"field":"x1","type":"quantitative","scale":{"domain":[5,9.28]},"axis":{"values":[6,7.5,9]}},"x2":{"field":"x2"},"y":{"field":"y1","type":"quantitative","scale":{"domain":[20.3,49.8]},"axis":{"values":[30,40]}},"y2":{"field":"y2"},"fill":{"field":"l","type":"ordinal","legend":null}}},
{"width":135,"height":134,"data":{"name":"q"},"transform":[{"filter":"datum.r==6&&datum.c==4"}],"encoding":{"x":{"field":"x1","type":"quantitative","scale":{"domain":[-3.8,12]},"axis":{"values":[0,6,12]}},"y":{"field":"y1","type":"quantitative","scale":{"domain":[20.3,49.8]},"axis":{"values":[30,40]}},"order":{"field":"o","type":"quantitative"}},"layer":[
{"transform":[{"filter":"datum.l==1"}],"mark":{"type":"line","interpolate":"cardinal-closed","clip":true,"fill":"#bfe7dc"}},
{"transform":[{"filter":"datum.l==2"}],"mark":{"type":"line","interpolate":"cardinal-closed","clip":true,"fill":"#80cfb9"}},
{"transform":[{"filter":"datum.l==3"}],"mark":{"type":"line","interpolate":"cardinal-closed","clip":true,"fill":"#009e73"}}]},
{"width":135,"height":134,"data":{"name":"b"},"transform":[{"filter":"datum.r==6&&datum.c==5"}],"mark":{"type":"rect","clip":true},"encoding":{"x":{"field":"x1","type":"quantitative","scale":{"domain":[0,1]},"axis":{"values":[0.4,0.8]}},"x2":{"field":"x2"},"y":{"field":"y1","type":"quantitative","scale":{"domain":[20.3,49.8]},"axis":{"values":[30,40]}},"y2":{"field":"y2"},"fill":{"field":"l","type":"ordinal","legend":null}}},
{"width":135,"height":134,"data":{"name":"h"},"transform":[{"filter":"datum.p==6"}],"mark":{"type":"line","interpolate":"step-after","clip":true},"encoding":{"x":{"field":"x","type":"quantitative","scale":{"domain":[20.3,49.8]},"axis":{"values":[30,40]}},"y":{"field":"h","type":"quantitative","scale":{"domain":[0,100]},"axis":{"values":[72.1]}}}},
{"width":135,"height":134,"view":{"stroke":null},"data":{"values":[]},"mark":"point"},
{"width":135,"height":134,"view":{"stroke":null},"data":{"values":[]},"mark":"point"},

{"width":135,"height":134,"data":{"name":"b"},"transform":[{"filter":"datum.r==7&&datum.c==0"}],"mark":{"type":"rect","clip":true},"encoding":{"x":{"field":"x1","type":"quantitative","scale":{"domain":[1.03,2.39]},"axis":{"values":[1.5,2.0]}},"x2":{"field":"x2"},"y":{"field":"y1","type":"quantitative","scale":{"domain":[0.3,10]},"axis":{"values":[4,8],"labels":true,"titleOpacity":1,"title":"σₘ [M⊙]"}},"y2":{"field":"y2"},"fill":{"field":"l","type":"ordinal","legend":null}}},
{"width":135,"height":134,"data":{"name":"b"},"transform":[{"filter":"datum.r==7&&datum.c==1"}],"mark":{"type":"rect","clip":true},"encoding":{"x":{"field":"x1","type":"quantitative","scale":{"domain":[-3.4,12.05]},"axis":{"values":[0,6,12]}},"x2":{"field":"x2"},"y":{"field":"y1","type":"quantitative","scale":{"domain":[0.3,10]},"axis":{"values":[4,8]}},"y2":{"field":"y2"},"fill":{"field":"l","type":"ordinal","legend":null}}},
{"width":135,"height":134,"data":{"name":"b"},"transform":[{"filter":"datum.r==7&&datum.c==2"}],"mark":{"type":"rect","clip":true},"encoding":{"x":{"field":"x1","type":"quantitative","scale":{"domain":[29.2,100]},"axis":{"values":[50,75,100]}},"x2":{"field":"x2"},"y":{"field":"y1","type":"quantitative","scale":{"domain":[0.3,10]},"axis":{"values":[4,8]}},"y2":{"field":"y2"},"fill":{"field":"l","type":"ordinal","legend":null}}},
{"width":135,"height":134,"data":{"name":"b"},"transform":[{"filter":"datum.r==7&&datum.c==3"}],"mark":{"type":"rect","clip":true},"encoding":{"x":{"field":"x1","type":"quantitative","scale":{"domain":[5,9.28]},"axis":{"values":[6,7.5,9]}},"x2":{"field":"x2"},"y":{"field":"y1","type":"quantitative","scale":{"domain":[0.3,10]},"axis":{"values":[4,8]}},"y2":{"field":"y2"},"fill":{"field":"l","type":"ordinal","legend":null}}},
{"width":135,"height":134,"data":{"name":"b"},"transform":[{"filter":"datum.r==7&&datum.c==4"}],"mark":{"type":"rect","clip":true},"encoding":{"x":{"field":"x1","type":"quantitative","scale":{"domain":[-3.8,12]},"axis":{"values":[0,6,12]}},"x2":{"field":"x2"},"y":{"field":"y1","type":"quantitative","scale":{"domain":[0.3,10]},"axis":{"values":[4,8]}},"y2":{"field":"y2"},"fill":{"field":"l","type":"ordinal","legend":null}}},
{"width":135,"height":134,"data":{"name":"b"},"transform":[{"filter":"datum.r==7&&datum.c==5"}],"mark":{"type":"rect","clip":true},"encoding":{"x":{"field":"x1","type":"quantitative","scale":{"domain":[0,1]},"axis":{"values":[0.4,0.8]}},"x2":{"field":"x2"},"y":{"field":"y1","type":"quantitative","scale":{"domain":[0.3,10]},"axis":{"values":[4,8]}},"y2":{"field":"y2"},"fill":{"field":"l","type":"ordinal","legend":null}}},
{"width":135,"height":134,"data":{"name":"q"},"transform":[{"filter":"datum.r==7&&datum.c==6"}],"encoding":{"x":{"field":"x1","type":"quantitative","scale":{"domain":[20.3,49.8]},"axis":{"values":[30,40]}},"y":{"field":"y1","type":"quantitative","scale":{"domain":[0.3,10]},"axis":{"values":[4,8]}},"order":{"field":"o","type":"quantitative"}},"layer":[
{"transform":[{"filter":"datum.l==1"}],"mark":{"type":"line","interpolate":"cardinal-closed","clip":true,"fill":"#bfe7dc"}},
{"transform":[{"filter":"datum.l==2"}],"mark":{"type":"line","interpolate":"cardinal-closed","clip":true,"fill":"#80cfb9"}},
{"transform":[{"filter":"datum.l==3"}],"mark":{"type":"line","interpolate":"cardinal-closed","clip":true,"fill":"#009e73"}}]},
{"width":135,"height":134,"data":{"name":"h"},"transform":[{"filter":"datum.p==7"}],"mark":{"type":"line","interpolate":"step-after","clip":true},"encoding":{"x":{"field":"x","type":"quantitative","scale":{"domain":[0.3,10]},"axis":{"values":[4,8]}},"y":{"field":"h","type":"quantitative","scale":{"domain":[0,100]},"axis":{"values":[58]}}}},
{"width":135,"height":134,"view":{"stroke":null},"data":{"values":[]},"mark":"point"},

{"width":135,"height":134,"data":{"name":"b"},"transform":[{"filter":"datum.r==8&&datum.c==0"}],"mark":{"type":"rect","clip":true},"encoding":{"x":{"field":"x1","type":"quantitative","scale":{"domain":[1.03,2.39]},"axis":{"values":[1.5,2.0],"labels":true,"titleOpacity":1,"title":"log₁₀ ℛ [Gpc⁻³yr⁻¹]","format":".1f"}},"x2":{"field":"x2"},"y":{"field":"y1","type":"quantitative","scale":{"domain":[0.05,10]},"axis":{"values":[4,8],"labels":true,"titleOpacity":1,"title":"δm [M⊙]"}},"y2":{"field":"y2"},"fill":{"field":"l","type":"ordinal","legend":null}}},
{"width":135,"height":134,"data":{"name":"b"},"transform":[{"filter":"datum.r==8&&datum.c==1"}],"mark":{"type":"rect","clip":true},"encoding":{"x":{"field":"x1","type":"quantitative","scale":{"domain":[-3.4,12.05]},"axis":{"values":[0,6,12],"labels":true,"titleOpacity":1,"title":"α"}},"x2":{"field":"x2"},"y":{"field":"y1","type":"quantitative","scale":{"domain":[0.05,10]},"axis":{"values":[4,8]}},"y2":{"field":"y2"},"fill":{"field":"l","type":"ordinal","legend":null}}},
{"width":135,"height":134,"data":{"name":"b"},"transform":[{"filter":"datum.r==8&&datum.c==2"}],"mark":{"type":"rect","clip":true},"encoding":{"x":{"field":"x1","type":"quantitative","scale":{"domain":[29.2,100]},"axis":{"values":[50,75,100],"labels":true,"titleOpacity":1,"title":"mₘₐₓ [M⊙]"}},"x2":{"field":"x2"},"y":{"field":"y1","type":"quantitative","scale":{"domain":[0.05,10]},"axis":{"values":[4,8]}},"y2":{"field":"y2"},"fill":{"field":"l","type":"ordinal","legend":null}}},
{"width":135,"height":134,"data":{"name":"q"},"transform":[{"filter":"datum.r==8&&datum.c==3"}],"encoding":{"x":{"field":"x1","type":"quantitative","scale":{"domain":[5,9.28]},"axis":{"values":[6,7.5,9],"labels":true,"titleOpacity":1,"title":"mₘᵢₙ [M⊙]","format":".1f"}},"y":{"field":"y1","type":"quantitative","scale":{"domain":[0.05,10]},"axis":{"values":[4,8]}},"order":{"field":"o","type":"quantitative"}},"layer":[
{"transform":[{"filter":"datum.l==1"}],"mark":{"type":"line","interpolate":"linear-closed","clip":true,"fill":"#bfe7dc"}},
{"transform":[{"filter":"datum.l==2"}],"mark":{"type":"line","interpolate":"linear-closed","clip":true,"fill":"#80cfb9"}},
{"transform":[{"filter":"datum.l==3"}],"mark":{"type":"line","interpolate":"linear-closed","clip":true,"fill":"#009e73"}}]},
{"width":135,"height":134,"data":{"name":"b"},"transform":[{"filter":"datum.r==8&&datum.c==4"}],"mark":{"type":"rect","clip":true},"encoding":{"x":{"field":"x1","type":"quantitative","scale":{"domain":[-3.8,12]},"axis":{"values":[0,6,12],"labels":true,"titleOpacity":1,"title":"βq"}},"x2":{"field":"x2"},"y":{"field":"y1","type":"quantitative","scale":{"domain":[0.05,10]},"axis":{"values":[4,8]}},"y2":{"field":"y2"},"fill":{"field":"l","type":"ordinal","legend":null}}},
{"width":135,"height":134,"data":{"name":"b"},"transform":[{"filter":"datum.r==8&&datum.c==5"}],"mark":{"type":"rect","clip":true},"encoding":{"x":{"field":"x1","type":"quantitative","scale":{"domain":[0,1]},"axis":{"values":[0.4,0.8],"labels":true,"titleOpacity":1,"title":"λₘ","format":".1f"}},"x2":{"field":"x2"},"y":{"field":"y1","type":"quantitative","scale":{"domain":[0.05,10]},"axis":{"values":[4,8]}},"y2":{"field":"y2"},"fill":{"field":"l","type":"ordinal","legend":null}}},
{"width":135,"height":134,"data":{"name":"b"},"transform":[{"filter":"datum.r==8&&datum.c==6"}],"mark":{"type":"rect","clip":true},"encoding":{"x":{"field":"x1","type":"quantitative","scale":{"domain":[20.3,49.8]},"axis":{"values":[30,40],"labels":true,"titleOpacity":1,"title":"μₘ [M⊙]"}},"x2":{"field":"x2"},"y":{"field":"y1","type":"quantitative","scale":{"domain":[0.05,10]},"axis":{"values":[4,8]}},"y2":{"field":"y2"},"fill":{"field":"l","type":"ordinal","legend":null}}},
{"width":135,"height":134,"data":{"name":"b"},"transform":[{"filter":"datum.r==8&&datum.c==7"}],"mark":{"type":"rect","clip":true},"encoding":{"x":{"field":"x1","type":"quantitative","scale":{"domain":[0.3,10]},"axis":{"values":[4,8],"labels":true,"titleOpacity":1,"title":"σₘ [M⊙]"}},"x2":{"field":"x2"},"y":{"field":"y1","type":"quantitative","scale":{"domain":[0.05,10]},"axis":{"values":[4,8]}},"y2":{"field":"y2"},"fill":{"field":"l","type":"ordinal","legend":null}}},
{"width":135,"height":134,"data":{"name":"h"},"transform":[{"filter":"datum.p==8"}],"mark":{"type":"line","interpolate":"step-after","clip":true},"encoding":{"x":{"field":"x","type":"quantitative","scale":{"domain":[0.05,10]},"axis":{"values":[4,8],"labels":true,"titleOpacity":1,"title":"δm [M⊙]"}},"y":{"field":"h","type":"quantitative","scale":{"domain":[0,100]},"axis":{"values":[67.7]}}}}
],
"config":{
"view":{"stroke":"black","strokeWidth":1.3},
"axis":{"grid":false,"domain":false,"labels":false,"titleOpacity":0,"tickColor":"black","tickSize":4,"tickWidth":1.2,"labelFont":"Liberation Serif","labelFontSize":17,"labelAngle":-45,"labelFlush":false,"labelOverlap":false,"labelColor":"black","labelPadding":2,"titleFont":"Liberation Serif","titleFontSize":22,"titleFontWeight":"normal","titleColor":"black"},
"line":{"color":"#009e73","strokeWidth":2.5},
"rect":{"stroke":"#009e73","strokeWidth":2.2,"cornerRadius":18},
"range":{"ordinal":["#bfe7dc","#80cfb9","#009e73"]}
}
}
